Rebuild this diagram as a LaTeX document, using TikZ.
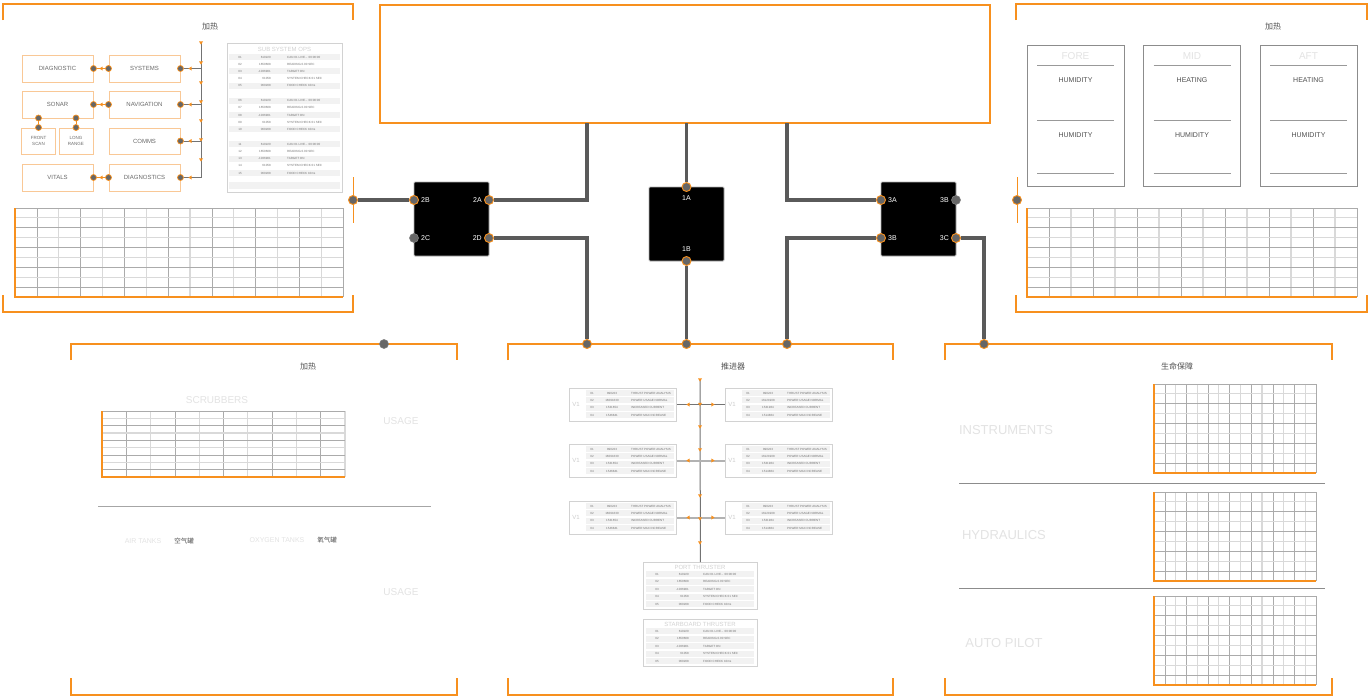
\documentclass[tikz,border=0pt]{standalone}
\usepackage{fontspec}
\setmainfont{Liberation Sans}
\newfontfamily\cjk{Noto Sans CJK SC}
\definecolor{orng}{HTML}{F7901E}
\definecolor{lorng}{HTML}{F9C896}
\definecolor{wirec}{HTML}{5A5A5A}
\definecolor{dotc}{HTML}{666666}
\definecolor{txtc}{HTML}{505050}
\definecolor{ghostc}{HTML}{E3E3E3}
\definecolor{gridd}{HTML}{ABABAB}
\definecolor{gridl}{HTML}{D9D9D9}
\definecolor{bandc}{HTML}{F2F2F2}

\newcommand\tipd[2]{\fill[orng] (#1-2,#2-1.6) -- (#1+2,#2-1.6) -- (#1,#2+1.6) -- cycle;}
\newcommand\tipl[2]{\fill[orng] (#1+1.6,#2-2) -- (#1+1.6,#2+2) -- (#1-1.6,#2) -- cycle;}
\newcommand\tipr[2]{\fill[orng] (#1-1.6,#2-2) -- (#1-1.6,#2+2) -- (#1+1.6,#2) -- cycle;}

\newcommand\panelframe[4]{%
  \draw[bracket] (#1,#2+16) -- (#1,#2) -- (#3,#2) -- (#3,#2+16);
  \draw[bracket] (#1,#4-17) -- (#1,#4) -- (#3,#4) -- (#3,#4-17);}

\newcommand\gridpanel[6]{%
  \foreach \i in {0,...,#5}{%
    \pgfmathsetmacro\gx{#1+(#3-#1)*\i/#5}
    \ifodd\i\def\gc{gridd}\def\gw{0.6pt}\else\def\gc{gridl}\def\gw{1.2pt}\fi
    \draw[draw=\gc,line width=\gw] (\gx,#2) -- (\gx,#4);}
  \foreach \j in {0,...,#6}{%
    \pgfmathsetmacro\gy{#2+(#4-#2)*\j/#6}
    \ifodd\j\def\gc{gridl}\def\gw{1.2pt}\else\def\gc{gridd}\def\gw{0.6pt}\fi
    \draw[draw=\gc,line width=\gw] (#1,\gy) -- (#3,\gy);}
  \draw[orng,line width=1.6pt] (#1,#2) -- (#1,#4) -- (#3,#4);}

\def\canlive{CAN 01 LIVE.{}.{}. 00:00:00}
\def\leftrows{01/890223/THRUST POWER ANALYSIS,02/16091630/POWER USAGE NORMAL,03/1531654/INCREASED CURRENT,04/1546841/POWER MAX INCREASE}
\def\rightrows{01/890223/THRUST POWER ANALYSIS,02/16121908/POWER USAGE NORMAL,03/1531964/INCREASED CURRENT,04/1514864/POWER MAX INCREASE}
\def\opsrows{610220/\canlive,1650608/READING 0.00 SEC,-1036901/TARGET ON,61058/SYSTEM CHECK 01 SEC,060208/FOOD CHECK 10ms}

\newcommand\thrustcard[4]{%
  \node[tcard,minimum width=107pt,minimum height=33pt,anchor=north west] (#1) at (#2,#3) {};
  \node[ghost,text=gray!40,font=\fontsize{6}{7}\selectfont] at (#2+7,#3+16.5) {V1};
  \foreach \rid/\rnum/\rtext [count=\q] in #4{%
    \pgfmathsetmacro\ry{#3+5+(\q-1)*7.4}
    \fill[bandc] (#2+17,\ry-3) rectangle (#2+105,\ry+3);
    \node[tiny] at (#2+23,\ry) {\rid};
    \node[tiny] at (#2+43,\ry) {\rnum};
    \node[tiny,anchor=west] at (#2+62,\ry) {\rtext};}}

\newcommand\optable[4]{%
  \node[tcard,minimum width=114pt,minimum height=47pt,anchor=north west] (#1) at (#2,#3) {};
  \node[ghost,text=gray!35,font=\fontsize{6}{7}\selectfont] at (#2+57,#3+5) {#4};
  \foreach \rnum/\rtext [count=\q] in \opsrows{%
    \pgfmathsetmacro\ry{#3+12+(\q-1)*7.6}
    \fill[bandc] (#2+3,\ry-3) rectangle (#2+111,\ry+3);
    \node[tiny] at (#2+14,\ry) {0\q};
    \node[tiny,anchor=east] at (#2+46,\ry) {\rnum};
    \node[tiny,anchor=west] at (#2+60,\ry) {\rtext};}}

\begin{document}
\begin{tikzpicture}[x=1pt,y=-1pt,
  port/.style={circle,fill=dotc,draw=orng,line width=0.9pt,inner sep=0pt,minimum size=9pt},
  deadport/.style={circle,fill=dotc,draw=gray,line width=0.6pt,inner sep=0pt,minimum size=9pt},
  pin/.style={circle,fill=dotc,draw=orng,line width=0.7pt,inner sep=0pt,minimum size=6pt},
  chip/.style={fill=black,draw=gray!60,line width=0.8pt,rounded corners=1pt,minimum width=75pt,minimum height=74pt},
  wire/.style={draw=wirec,line width=3.6pt},
  bus/.style={draw=wirec!85,line width=1pt},
  fadedwire/.style={draw=gray!60,line width=2.4pt},
  bracket/.style={draw=orng,line width=1.8pt},
  subbox/.style={draw=lorng,line width=1pt,minimum width=71pt,minimum height=27pt,inner sep=0pt,text=txtc!85,font=\fontsize{6}{7}\selectfont,align=center},
  smallbox/.style={subbox,minimum width=34pt,minimum height=26pt,font=\fontsize{4.5}{5.5}\selectfont},
  portlbl/.style={text=white,font=\fontsize{7}{8}\selectfont,inner sep=1pt},
  ghost/.style={text=ghostc,inner sep=0pt},
  tiny/.style={font=\fontsize{3}{3.5}\selectfont,text=txtc!80,inner sep=0pt},
  tcard/.style={draw=gray!35,line width=0.8pt,inner sep=0pt},
  card/.style={draw=gray!90,line width=0.8pt,minimum width=97pt,minimum height=141pt,inner sep=0pt},
  head/.style={font=\cjk\fontsize{8}{9}\selectfont,text=txtc,inner sep=0pt},
  lbl/.style={font=\fontsize{7}{8}\selectfont,text=txtc,inner sep=0pt},
  sepline/.style={draw=gray!90,line width=0.8pt}]
\useasboundingbox (0,0) rectangle (1369,697);
\fill[white] (0,0) rectangle (1369,697);

\panelframe{3}{4}{353}{312}
\panelframe{1016}{4}{1367}{312}
\panelframe{71}{344}{457}{695}
\panelframe{508}{344}{893}{695}
\panelframe{945}{344}{1332}{695}
\node[draw=orng,line width=1.8pt,minimum width=610pt,minimum height=118pt,inner sep=0pt] (monitor) at (685,64) {};

\node[chip] (chipB) at (451.5,219) {};
\node[chip] (chipA) at (686.5,224) {};
\node[chip] (chipC) at (918.5,219) {};
\node[port] (p2B) at (414,200) {};
\node[port] (p2A) at (489,200) {};
\node[deadport] (p2C) at (414,238) {};
\node[port] (p2D) at (489,238) {};
\node[port] (p1A) at (686.5,187) {};
\node[port] (p1B) at (686.5,261) {};
\node[port] (p3A) at (881,200) {};
\node[deadport] (p3X) at (956,200) {};
\node[port] (p3B) at (881,238) {};
\node[port] (p3C) at (956,238) {};
\node[portlbl,anchor=west] at (420,200) {2B};
\node[portlbl,anchor=east] at (483,200) {2A};
\node[portlbl,anchor=west] at (420,238) {2C};
\node[portlbl,anchor=east] at (483,238) {2D};
\node[portlbl] at (686.5,198) {1A};
\node[portlbl] at (686.5,249) {1B};
\node[portlbl,anchor=west] at (887,200) {3A};
\node[portlbl,anchor=east] at (950,200) {3B};
\node[portlbl,anchor=west] at (887,238) {3B};
\node[portlbl,anchor=east] at (950,238) {3C};

\draw[orng,line width=1pt] (353,177) -- (353,223) (1017,177) -- (1017,223);
\node[port] (westin) at (353,200) {};
\node[port] (eastin) at (1017,200) {};
\node[port] (in2D) at (587,344) {};
\node[port] (in1B) at (686.5,344) {};
\node[port] (in3B) at (787,344) {};
\node[port] (in3C) at (984,344) {};
\node[deadport] (spare) at (384,344) {};
\coordinate (tap2A) at (587,123);
\coordinate (tap1A) at (686.5,123);
\coordinate (tap3A) at (787,123);
\draw[wire] (westin) -- (p2B);
\draw[wire] (p2A) -| (tap2A);
\draw[wire] (p2D) -| (in2D);
\draw[wire] (p1A) -- (tap1A);
\draw[wire] (p1B) -- (in1B);
\draw[wire] (p3A) -| (tap3A);
\draw[wire] (p3B) -| (in3B);
\draw[wire] (p3C) -| (in3C);

% top left: subsystems
\node[head] at (210,26) {加热};
\node[subbox] (diag) at (57.5,68.5) {DIAGNOSTIC};
\node[subbox] (sys) at (144.5,68.5) {SYSTEMS};
\node[subbox] (sonar) at (57.5,104.5) {SONAR};
\node[subbox] (nav) at (144.5,104.5) {NAVIGATION};
\node[smallbox] (front) at (38.5,141) {FRONT\\SCAN};
\node[smallbox] (long) at (76,141) {LONG\\RANGE};
\node[subbox,minimum height=26pt] (comms) at (144.5,141) {COMMS};
\node[subbox] (vitals) at (57.5,177.5) {VITALS};
\node[subbox] (diags) at (144.5,177.5) {DIAGNOSTICS};
\foreach \a/\b/\yy in {diag/sys/68.5,sonar/nav/104.5,vitals/diags/177.5}{
  \node[pin] (\a R) at (\a.east) {};
  \node[pin] (\b L) at (\b.west) {};
  \draw[orng,line width=0.8pt] (\a R) -- (\b L);
  \tipl{101}{\yy}}
\node[pin] (sonarA) at (38.5,118) {};
\node[pin] (frontT) at (front.north) {};
\node[pin] (sonarB) at (76,118) {};
\node[pin] (longT) at (long.north) {};
\draw[orng,line width=0.8pt] (sonarA) -- (frontT) (sonarB) -- (longT);
\coordinate (bustop) at (201,43);
\foreach \s/\yy in {sys/68.5,nav/104.5,comms/141}{
  \node[pin] (\s R) at (\s.east) {};
  \coordinate (\s J) at (201,\yy);
  \draw[bus] (\s R) -- (\s J);}
\node[pin] (diagsR) at (diags.east) {};
\draw[bus] (bustop) |- (diagsR);
\foreach \yy in {68.5,104.5,141,177.5} {\tipl{190}{\yy}}
\foreach \yy in {43,63,83,102,121,140,160} {\tipd{201}{\yy}}

\node[tcard,minimum width=115pt,minimum height=149pt] (ops) at (284.5,117.5) {};
\node[ghost,text=gray!35,font=\fontsize{6}{7}\selectfont] at (284.5,49) {SUB SYSTEM OPS};
\foreach \g in {0,1,2}{
  \foreach \rnum/\rtext [count=\q] in \opsrows{
    \pgfmathtruncatemacro\idn{\g*5+\q}
    \pgfmathsetmacro\ry{57+\g*43.6+(\q-1)*7.2}
    \ifodd\q\fill[bandc] (229,\ry-3) rectangle (340,\ry+3);\fi
    \node[tiny] at (240,\ry) {\ifnum\idn<10 0\fi\idn};
    \node[tiny,anchor=east] at (271,\ry) {\rnum};
    \node[tiny,anchor=west] at (287,\ry) {\rtext};}}
\fill[bandc] (229,182) rectangle (340,189);
\gridpanel{15}{208}{343}{297}{15}{9}

% top right: zones
\node[head] at (1273,26) {加热};
\foreach \nm/\cx/\ta/\tb in {FORE/1075.5/HUMIDITY/HUMIDITY,MID/1192/HEATING/HUMIDITY,AFT/1308.5/HEATING/HUMIDITY}{
  \node[card] (zone\nm) at (\cx,116) {};
  \node[ghost,font=\fontsize{10}{11}\selectfont] at (\cx,56) {\nm};
  \draw[draw=gray!80,line width=0.6pt] (\cx-38.5,65) -- (\cx+38.5,65) (\cx-38.5,120) -- (\cx+38.5,120) (\cx-38.5,173) -- (\cx+38.5,173);
  \node[lbl] at (\cx,80) {\ta};
  \node[lbl] at (\cx,135) {\tb};}
\gridpanel{1027}{208}{1357}{297}{15}{9}

% bottom left
\node[head] at (308,366) {加热};
\node[ghost,font=\fontsize{10}{11}\selectfont] at (217,400) {SCRUBBERS};
\gridpanel{102}{411}{345}{477}{10}{9}
\node[ghost,font=\fontsize{10}{11}\selectfont] at (401,421) {USAGE};
\draw[sepline,draw=gray!70] (98,506) -- (431,506);
\node[ghost,font=\fontsize{7}{8}\selectfont] at (143,541) {AIR TANKS};
\node[head,font=\cjk\fontsize{6.5}{7}\selectfont] at (184,541) {空气罐};
\node[ghost,font=\fontsize{7}{8}\selectfont] at (277,540) {OXYGEN TANKS};
\node[head,font=\cjk\fontsize{6.5}{7}\selectfont] at (327,540) {氧气罐};
\node[ghost,font=\fontsize{10}{11}\selectfont] at (401,592) {USAGE};

% bottom centre: thrusters
\node[head] at (733,366) {推进器};
\thrustcard{cl1}{569}{388}{\leftrows}
\thrustcard{cr1}{725}{388}{\rightrows}
\thrustcard{cl2}{569}{444}{\leftrows}
\thrustcard{cr2}{725}{444}{\rightrows}
\thrustcard{cl3}{569}{501}{\leftrows}
\thrustcard{cr3}{725}{501}{\rightrows}
\optable{portthr}{643}{562}{PORT THRUSTER}
\optable{stbdthr}{643}{619}{STARBOARD THRUSTER}
\coordinate (thrtop) at (700,379);
\draw[bus] (thrtop) -- (portthr.north);
\draw[bus] (cl1.east) -- (cr1.west);
\draw[fadedwire] (cl2.east) -- (cr2.west);
\draw[fadedwire] (cl3.east) -- (cr3.west);
\foreach \yy in {404.5,460.5,517.5} {\tipl{688}{\yy} \tipr{713}{\yy}}
\foreach \yy in {380,404.5,427,450,496,519,543} {\tipd{700}{\yy}}

% bottom right: life support
\node[head] at (1177,366) {生命保障};
\gridpanel{1154}{384}{1316}{473}{15}{9}
\gridpanel{1154}{492}{1316}{581}{15}{9}
\gridpanel{1154}{596}{1316}{685}{15}{9}
\draw[sepline] (959,483) -- (1325,483) (959,588) -- (1325,588);
\node[ghost,font=\fontsize{13}{14}\selectfont] at (1006,430) {INSTRUMENTS};
\node[ghost,font=\fontsize{13}{14}\selectfont] at (1004,535) {HYDRAULICS};
\node[ghost,font=\fontsize{13}{14}\selectfont] at (1004,643) {AUTO PILOT};
\end{tikzpicture}
\end{document}
